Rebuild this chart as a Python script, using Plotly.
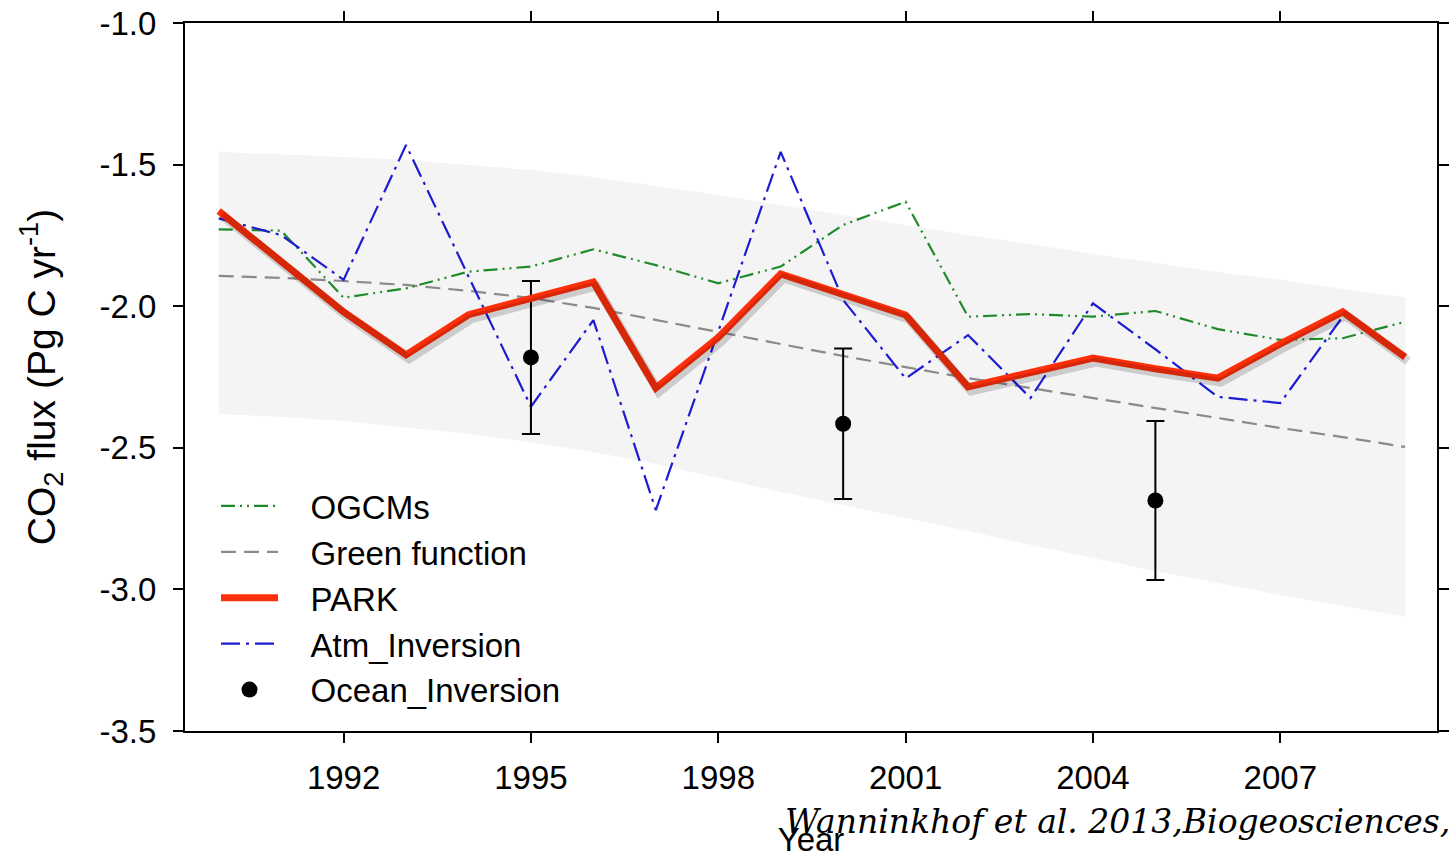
import plotly.graph_objects as go

# ---------------- data ----------------
years = list(range(1990, 2010))

band_upper = [-1.455, -1.463, -1.473, -1.484, -1.501, -1.519, -1.544, -1.576, -1.607, -1.643,
              -1.678, -1.713, -1.749, -1.780, -1.816, -1.847, -1.879, -1.907, -1.939, -1.968]
band_lower = [-2.381, -2.391, -2.405, -2.427, -2.451, -2.480, -2.515, -2.557, -2.607, -2.656,
              -2.702, -2.748, -2.794, -2.843, -2.889, -2.935, -2.977, -3.020, -3.059, -3.097]

green_function = [-1.893, -1.900, -1.911, -1.925, -1.946, -1.971, -2.006, -2.049, -2.091, -2.134,
                  -2.176, -2.215, -2.254, -2.289, -2.324, -2.359, -2.395, -2.430, -2.462, -2.497]

ogcms = [-1.729, -1.733, -1.970, -1.937, -1.878, -1.860, -1.799, -1.855, -1.919, -1.860,
         -1.713, -1.631, -2.037, -2.028, -2.037, -2.017, -2.081, -2.119, -2.113, -2.055]

park = [-1.664, -1.842, -2.020, -2.172, -2.030, -1.972, -1.915, -2.289, -2.110, -1.886,
        -1.958, -2.031, -2.285, -2.233, -2.183, -2.221, -2.254, -2.133, -2.020, -2.180]

atm_years = list(range(1990, 2009))
atm_inversion = [-1.690, -1.749, -1.907, -1.431, -1.895, -2.355, -2.049, -2.720, -2.089, -1.455,
                 -1.978, -2.255, -2.102, -2.324, -1.990, -2.152, -2.320, -2.342, -2.037]

ocean_years = [1995, 2000, 2005]
ocean_inversion = [-2.181, -2.415, -2.686]
ocean_err = [0.270, 0.266, 0.281]

x_tick_vals = [1992, 1995, 1998, 2001, 2004, 2007]
x_tick_text = ["1992", "1995", "1998", "2001", "2004", "2007"]
y_tick_vals = [-1.0, -1.5, -2.0, -2.5, -3.0, -3.5]
y_tick_text = ["-1.0", "-1.5", "-2.0", "-2.5", "-3.0", "-3.5"]

x_range = [1989.46, 2009.51]
y_range = [-3.5, -1.0]

# ---------------- figure ----------------
W, H = 1451, 858
ML, MR, MT, MB = 185, 14, 23, 127
plot_w = W - ML - MR
plot_h = H - MT - MB

FONT = "Liberation Sans, Arial, sans-serif"
PAD = "\u00a0\u00a0\u00a0"  # gap between legend sample and label

fig = go.Figure()

# uncertainty band
fig.add_trace(go.Scatter(x=years, y=band_upper, mode="lines", line=dict(width=0),
                         showlegend=False, hoverinfo="skip"))
fig.add_trace(go.Scatter(x=years, y=band_lower, mode="lines", line=dict(width=0),
                         fill="tonexty", fillcolor="#f4f4f4", showlegend=False, hoverinfo="skip"))

fig.add_trace(go.Scatter(x=years, y=green_function, mode="lines", name=PAD + "Green function",
                         line=dict(color="#8a8a8a", width=2.2, dash="15px,8px"), legendrank=2))
fig.add_trace(go.Scatter(x=years, y=ogcms, mode="lines", name=PAD + "OGCMs",
                         line=dict(color="#1f8a2a", width=2.2, dash="14px,5px,2px,5px,2px,5px"),
                         legendrank=1))
fig.add_trace(go.Scatter(x=atm_years, y=atm_inversion, mode="lines", name=PAD + "Atm_Inversion",
                         line=dict(color="#1c1cd0", width=2.2, dash="19px,6px,3px,6px"),
                         legendrank=4))
fig.add_trace(go.Scatter(x=ocean_years, y=ocean_inversion, mode="markers",
                         name=PAD + "Ocean_Inversion",
                         marker=dict(color="black", size=16),
                         error_y=dict(type="data", array=ocean_err, visible=True,
                                      color="black", thickness=2, width=9),
                         legendrank=5))

# soft shadow of the PARK line (same data, drawn on slightly offset hidden axes)
px_per_year = plot_w / (x_range[1] - x_range[0])
px_per_unit = plot_h / (y_range[1] - y_range[0])
dx = 3 / px_per_year
dy = 4 / px_per_unit
fig.add_trace(go.Scatter(x=years, y=park, mode="lines", xaxis="x2", yaxis="y2",
                         line=dict(color="rgba(0,0,0,0.16)", width=9),
                         showlegend=False, hoverinfo="skip"))
fig.add_trace(go.Scatter(x=years, y=park, mode="lines", name=PAD + "PARK",
                         line=dict(color="#ff2f0a", width=7), legendrank=3))

axis_common = dict(showline=True, linecolor="black", linewidth=2, mirror="allticks",
                   ticks="outside", ticklen=10, tickwidth=2, tickcolor="black",
                   showgrid=False, zeroline=False, automargin=False,
                   tickfont=dict(family=FONT, size=33, color="black"))

fig.update_layout(
    width=W, height=H,
    margin=dict(l=ML, r=MR, t=MT, b=MB, pad=0, autoexpand=False),
    paper_bgcolor="white", plot_bgcolor="white",
    xaxis=dict(range=x_range, tickvals=x_tick_vals, ticktext=x_tick_text, ticklabelstandoff=6,
               title=dict(text="Year", font=dict(family=FONT, size=33, color="black"), standoff=51),
               **axis_common),
    yaxis=dict(range=y_range, tickvals=y_tick_vals, ticktext=y_tick_text, ticklabelstandoff=10,
               title=dict(text="CO<sub>2</sub> flux (Pg C yr<sup>-1</sup>)",
                          font=dict(family=FONT, size=39, color="black"), standoff=32),
               **axis_common),
    xaxis2=dict(range=[x_range[0] - dx, x_range[1] - dx], overlaying="x", visible=False),
    yaxis2=dict(range=[y_range[0] + dy, y_range[1] + dy], overlaying="y", visible=False),
    legend=dict(x=(216 - ML) / plot_w, y=(731 - 478) / plot_h, xanchor="left", yanchor="top",
                bgcolor="rgba(0,0,0,0)", font=dict(family=FONT, size=33, color="black"),
                itemwidth=57, tracegroupgap=0, traceorder="normal"),
    showlegend=True,
)

fig.add_annotation(
    text="<i>Wanninkhof et al. 2013,Biogeosciences, 10, 1983-2000</i>",
    xref="paper", yref="paper", x=(783 - ML) / plot_w, y=-(821 - 731) / plot_h,
    xanchor="left", yanchor="middle", showarrow=False,
    font=dict(family="DejaVu Serif, Liberation Serif, serif", size=33, color="black"),
)

fig.write_html("out.html")
